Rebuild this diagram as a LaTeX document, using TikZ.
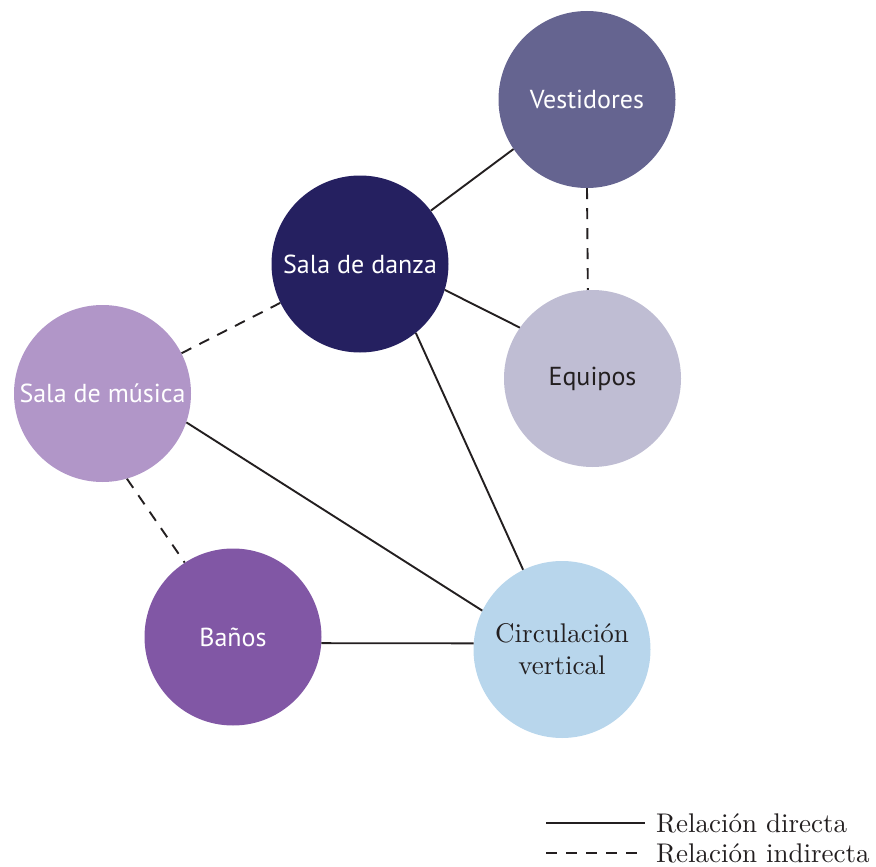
\documentclass[tikz,border=0pt]{standalone}
\usepackage{fontspec}
\newfontfamily\labelfont{PT Sans}
\newfontfamily\lmten{lmroman10-regular.otf}
\definecolor{cVest}{HTML}{656490}
\definecolor{cDanza}{HTML}{252060}
\definecolor{cEquip}{HTML}{BFBDD3}
\definecolor{cMusica}{HTML}{B196C8}
\definecolor{cBanos}{HTML}{8157A5}
\definecolor{cCirc}{HTML}{B8D6EC}
\definecolor{cInk}{HTML}{231F20}
\tikzset{
  room/.style={circle, minimum size=177pt, inner sep=0pt, draw=none, align=center},
  sanslbl/.style={font=\labelfont\fontsize{26}{30}\selectfont, text=white},
  seriflbl/.style={font=\lmten\fontsize{27}{32}\selectfont, text=cInk},
  rel/.style={line width=1.9pt, draw=cInk},
  relind/.style={rel, dash pattern=on 11pt off 9pt},
  legtext/.style={font=\lmten\fontsize{27}{32}\selectfont, text=cInk, anchor=base west, inner sep=0pt}
}
\begin{document}
\begin{tikzpicture}[x=1pt,y=-1pt]
\useasboundingbox (0,0) rectangle (876,867);
\node[room, fill=cVest, sanslbl] (vest) at (587,99.5) {Vestidores};
\node[room, fill=cDanza, sanslbl] (danza) at (360,264) {Sala de danza};
\node[room, fill=cEquip, sanslbl, text=cInk] (equip) at (592.5,378.5) {Equipos};
\node[room, fill=cMusica, sanslbl] (musica) at (102.5,393.5) {Sala de música};
\node[room, fill=cBanos, sanslbl] (banos) at (233,637) {Baños};
\node[room, fill=cCirc, seriflbl] (circ) at (562,649.5) {Circulación\\vertical};

\draw[rel] (vest.-146) -- (danza.37.6);
\draw[relind] (vest.-90) -- (equip.93.2);
\draw[rel] (danza.-17) -- (equip.145.4);
\draw[relind] (musica.27.8) -- (danza.-154.7);
\draw[rel] (musica.-19.3) -- (circ.154.5);
\draw[rel] (danza.-51.3) -- (circ.116);
\draw[relind] (musica.-74.2) -- (banos.123.5);
\draw[rel] (banos.-4.5) -- (circ.176.5);

\coordinate (l1a) at (546,823);
\coordinate (l1b) at (645,823);
\coordinate (l2a) at (546,853);
\coordinate (l2b) at (645,853);
\draw[rel] (l1a) -- (l1b);
\draw[relind] (l2a) -- (l2b);
\node[legtext] (t1) at (656,832) {Relación directa};
\node[legtext] (t2) at (656,862) {Relación indirecta};
\end{tikzpicture}
\end{document}
